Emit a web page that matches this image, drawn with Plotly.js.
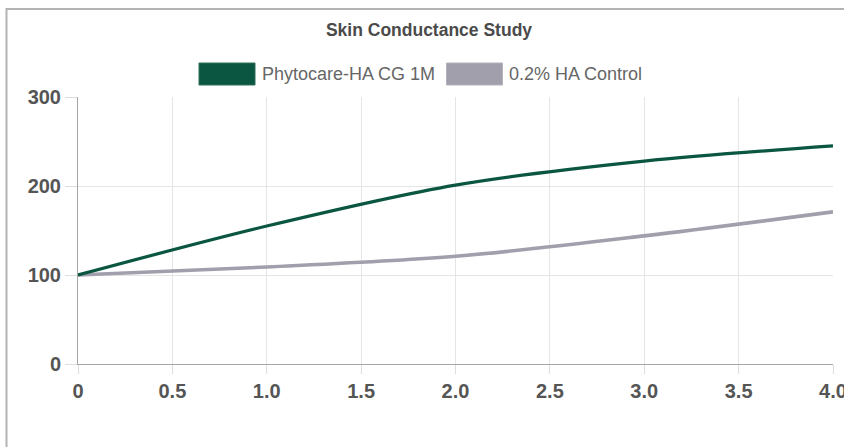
<!DOCTYPE html>
<html>
<head>
<meta charset="utf-8">
<script src="https://cdn.plot.ly/plotly-3.0.1.min.js"></script>
<style>
  html, body { margin: 0; padding: 0; background: #ffffff; overflow: hidden; }
  #chart { width: 844px; height: 447px; }
</style>
</head>
<body>
<div id="chart"></div>
<script>
// ---- data ----
const chartTitle = 'Skin Conductance Study';
const seriesNames = ['Phytocare-HA CG 1M', '0.2% HA Control'];
const xValues = [0, 1, 2, 3, 4];
const phytocareValues = [100, 155, 201, 228, 245];
const controlValues = [100, 109, 121, 144, 171];
const xTickValues = [0, 0.5, 1, 1.5, 2, 2.5, 3, 3.5, 4];
const xTickLabels = ['0', '0.5', '1.0', '1.5', '2.0', '2.5', '3.0', '3.5', '4.0'];
const yTickValues = [0, 100, 200, 300];
const yTickLabels = ['0', '100', '200', '300'];

// ---- style ----
const colors = ['#0b5640', '#a19fab'];
const borderColors = ['#2e6e59', '#b4b2bc'];
const W = 844, H = 447;
const M = { l: 78, r: 11, t: 97, b: 83 };
const pw = W - M.l - M.r, ph = H - M.t - M.b;
const px = x => (x - M.l) / pw;        // pixel -> paper x
const py = y => (H - M.b - y) / ph;    // pixel -> paper y

const tickFont = { family: 'Liberation Sans, Arial, sans-serif', size: 20, color: '#555555', weight: 'bold' };

const traces = [
  {
    x: xValues, y: phytocareValues, name: seriesNames[0], type: 'scatter', mode: 'lines',
    line: { color: colors[0], width: 3.2, shape: 'spline', smoothing: 0.9 },
    cliponaxis: false, showlegend: false, hoverinfo: 'x+y+name'
  },
  {
    x: xValues, y: controlValues, name: seriesNames[1], type: 'scatter', mode: 'lines',
    line: { color: colors[1], width: 3.6, shape: 'spline', smoothing: 0.9 },
    cliponaxis: false, showlegend: false, hoverinfo: 'x+y+name'
  }
];
// draw grey first (below) so green sits on top where they meet
traces.reverse();

// custom Chart.js-style legend (boxes + labels) and container border
const legendBoxes = [[199, 255], [446.5, 502.5]];
const legendTextX = [260, 507];
const shapes = [
  { type: 'rect', xref: 'paper', yref: 'paper', x0: px(6.5), x1: px(900), y0: py(600), y1: py(9),
    line: { color: '#b3b3b3', width: 2 }, fillcolor: 'rgba(0,0,0,0)', layer: 'above' }
];
const annotations = [];
seriesNames.forEach((n, i) => {
  shapes.push({ type: 'rect', xref: 'paper', yref: 'paper',
    x0: px(legendBoxes[i][0]), x1: px(legendBoxes[i][1]), y0: py(85), y1: py(63),
    fillcolor: colors[i], line: { color: borderColors[i], width: 1 } });
  annotations.push({ xref: 'paper', yref: 'paper', x: px(legendTextX[i]), y: py(74),
    xanchor: 'left', yanchor: 'middle', showarrow: false, text: n,
    font: { family: 'Liberation Sans, Arial, sans-serif', size: 18, color: '#666666' } });
});

const layout = {
  width: W, height: H,
  margin: M,
  paper_bgcolor: '#ffffff', plot_bgcolor: '#ffffff',
  title: {
    text: chartTitle, xref: 'container', yref: 'container',
    x: 429 / W, xanchor: 'center', y: 1 - 30 / H, yanchor: 'middle',
    font: { family: 'Liberation Sans, Arial, sans-serif', size: 17.5, color: '#4a4a4a', weight: 'bold' }
  },
  showlegend: false,
  xaxis: {
    range: [0, 4], tickmode: 'array', tickvals: xTickValues, ticktext: xTickLabels,
    showgrid: true, gridcolor: '#e5e5e5', gridwidth: 1,
    zeroline: false, showline: true, linecolor: '#a6a6a6', linewidth: 1,
    ticks: 'outside', ticklen: 9, tickcolor: '#dddddd', tickwidth: 1,
    tickfont: tickFont, ticklabeloverflow: 'allow', fixedrange: true
  },
  yaxis: {
    range: [0, 300], tickmode: 'array', tickvals: yTickValues, ticktext: yTickLabels,
    showgrid: true, gridcolor: '#e5e5e5', gridwidth: 1,
    zeroline: false, showline: true, linecolor: '#a6a6a6', linewidth: 1,
    ticks: 'outside', ticklen: 12, tickcolor: '#dddddd', tickwidth: 1,
    tickfont: tickFont, ticklabeloverflow: 'allow', fixedrange: true
  },
  shapes: shapes,
  annotations: annotations
};

Plotly.newPlot('chart', traces, layout, { displayModeBar: false, staticPlot: true });
</script>
</body>
</html>
